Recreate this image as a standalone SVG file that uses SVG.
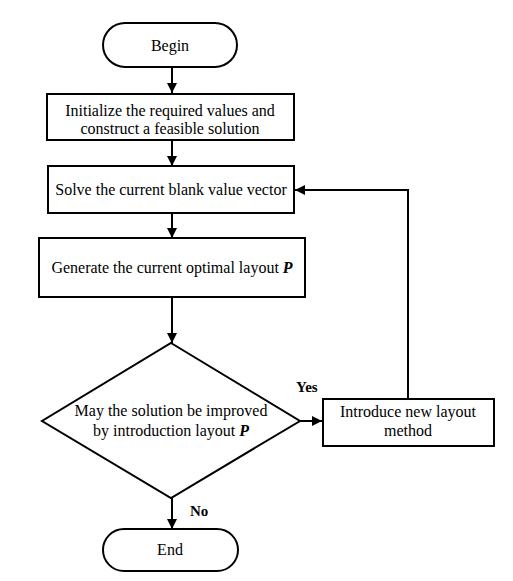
<svg xmlns="http://www.w3.org/2000/svg" width="513" height="581" viewBox="0 0 513 581">
<defs>
<marker id="ah" markerWidth="10" markerHeight="10" refX="10" refY="5" orient="auto" markerUnits="userSpaceOnUse">
<path d="M0,0 L10,5 L0,10 Z" fill="#000"/>
</marker>
<style>
.n{fill:#fff;stroke:#000;stroke-width:2}
.t{font-family:'Liberation Serif','Times New Roman',serif;font-size:16px;fill:#000;text-anchor:middle}
.b{font-weight:bold;font-style:italic}
.lb{font-family:'Liberation Serif','Times New Roman',serif;font-size:15px;font-weight:bold;fill:#000}
.c{fill:none;stroke:#000;stroke-width:2;marker-end:url(#ah)}
</style>
</defs>
<rect width="513" height="581" fill="#fff"/>
<g id="connectors">
<line class="c" x1="172" y1="67" x2="172" y2="93"/>
<line class="c" x1="172" y1="140" x2="172" y2="166"/>
<line class="c" x1="172" y1="213" x2="172" y2="238"/>
<line class="c" x1="172" y1="297" x2="172" y2="343"/>
<line class="c" x1="300" y1="421" x2="322" y2="421"/>
<polyline class="c" points="408,399 408,190 295,190"/>
<line class="c" x1="172" y1="498" x2="172" y2="529"/>
<text class="lb" x="296" y="392">Yes</text>
<text class="lb" x="190" y="516">No</text>
</g>
<g id="begin">
<rect class="n" x="103" y="23" width="134" height="44" rx="22"/>
<text class="t" x="170" y="51">Begin</text>
</g>
<g id="init">
<rect class="n" x="47" y="94" width="247" height="46"/>
<text class="t" x="170" y="116">Initialize the required values and</text>
<text class="t" x="170" y="134">construct a feasible solution</text>
</g>
<g id="solve">
<rect class="n" x="48" y="166" width="246" height="47"/>
<text class="t" x="171" y="195">Solve the current blank value vector</text>
</g>
<g id="generate">
<rect class="n" x="39" y="238" width="266" height="59"/>
<text class="t" x="172" y="273">Generate the current optimal layout <tspan class="b">P</tspan></text>
</g>
<g id="decision">
<polygon class="n" points="171,343 300,421 171,498 42,421"/>
<text class="t" x="171" y="416">May the solution be improved</text>
<text class="t" x="171" y="436">by introduction layout <tspan class="b">P</tspan></text>
</g>
<g id="introduce">
<rect class="n" x="323" y="399" width="171" height="47"/>
<text class="t" x="408" y="417">Introduce new layout</text>
<text class="t" x="408" y="436">method</text>
</g>
<g id="end">
<rect class="n" x="103" y="529" width="135" height="42" rx="21"/>
<text class="t" x="170" y="555">End</text>
</g>
</svg>
